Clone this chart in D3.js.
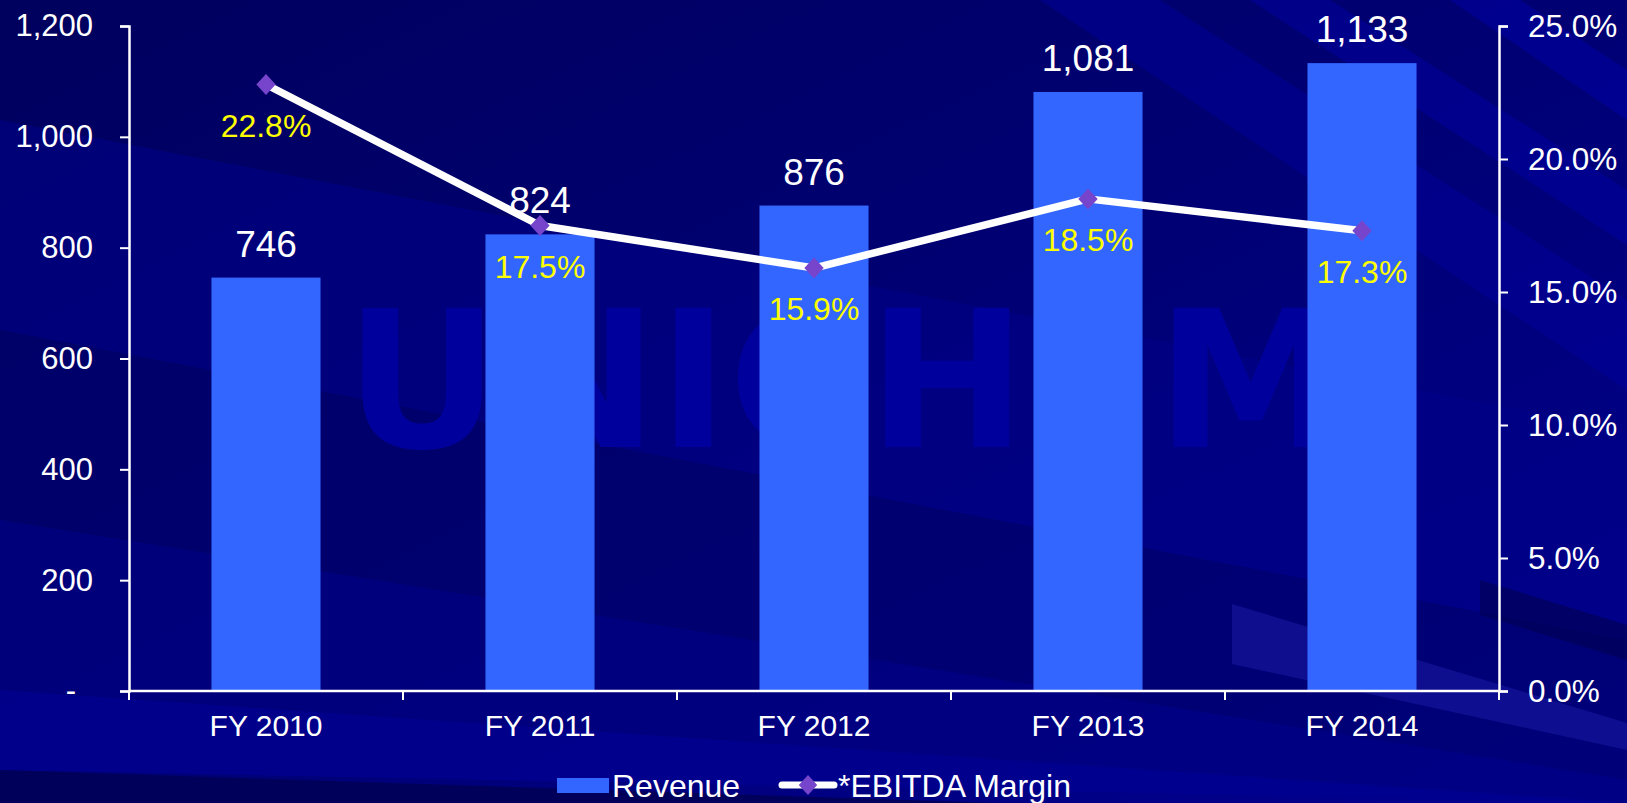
<!DOCTYPE html>
<html>
<head>
<meta charset="utf-8">
<script src="https://cdn.jsdelivr.net/npm/d3@7"></script>
<style>
  html, body { margin: 0; padding: 0; background: #000070; }
  svg { display: block; }
  text { font-family: "Liberation Sans", Arial, sans-serif; }
</style>
</head>
<body>
<svg id="chart" width="1627" height="803"></svg>
<script>
// ---- Data ----
const categories = ["FY 2010", "FY 2011", "FY 2012", "FY 2013", "FY 2014"];
const revenue = [746, 824, 876, 1081, 1133];
const ebitdaMargin = [22.8, 17.5, 15.9, 18.5, 17.3];
const leftTicks = [0, 200, 400, 600, 800, 1000, 1200];
const rightTicks = [0, 5, 10, 15, 20, 25];
const seriesNames = ["Revenue", "*EBITDA Margin"];

const W = 1627, H = 803;
const m = { left: 129, right: 1499, top: 26, bottom: 691 };

const svg = d3.select("#chart");

// ---- Background ----
const defs = svg.append("defs");
const bg = defs.append("linearGradient").attr("id", "bg")
  .attr("x1", "0").attr("y1", "0").attr("x2", "1").attr("y2", "1");
bg.append("stop").attr("offset", "0").attr("stop-color", "#00005e");
bg.append("stop").attr("offset", "0.5").attr("stop-color", "#000074");
bg.append("stop").attr("offset", "1").attr("stop-color", "#000090");
svg.append("rect").attr("width", W).attr("height", H).attr("fill", "url(#bg)");

const streaks = [
  { p: [[0,120],[0,330],[1627,640],[1627,430]], c: "#000088", o: 0.55 },
  { p: [[0,330],[0,520],[1627,780],[1627,640]], c: "#00006a", o: 0.6 },
  { p: [[0,520],[0,690],[1627,803],[1627,780]], c: "#000080", o: 0.7 },
  { p: [[0,690],[0,770],[1627,803],[1627,803]], c: "#000090", o: 0.8 },
  { p: [[0,770],[0,803],[1000,803]], c: "#000058", o: 0.9 },
  { p: [[1040,0],[1160,0],[1627,300],[1627,390]], c: "#0000a0", o: 0.45 },
  { p: [[1250,0],[1330,0],[1627,190],[1627,245]], c: "#0000a8", o: 0.45 },
  { p: [[1450,0],[1520,0],[1627,70],[1627,120]], c: "#0000b0", o: 0.45 },
  { p: [[1480,580],[1627,625],[1627,660],[1480,615]], c: "#000058", o: 0.7 },
  { p: [[1232,604],[1627,723],[1627,750],[1232,664]], c: "#2020b0", o: 0.45 }
];
svg.append("g").selectAll("polygon").data(streaks).join("polygon")
  .attr("points", d => d.p.map(q => q.join(",")).join(" "))
  .attr("fill", d => d.c).attr("opacity", d => d.o);

// Watermark
svg.append("text")
  .attr("x", 345).attr("y", 447)
  .attr("textLength", 1000).attr("lengthAdjust", "spacingAndGlyphs")
  .style("font-family", "'DejaVu Sans', sans-serif")
  .style("font-weight", "bold").style("font-size", "190px")
  .attr("fill", "#00009c")
  .text("UNICHEM");

// ---- Scales ----
const x = d3.scaleBand().domain(categories).range([m.left, m.right]).padding(0);
const yL = d3.scaleLinear().domain([0, 1200]).range([m.bottom, m.top]);
const yR = d3.scaleLinear().domain([0, 25]).range([m.bottom, m.top]);
const barW = x.bandwidth() * 0.398;
const cx = c => x(c) + x.bandwidth() / 2;

// ---- Bars ----
svg.append("g").selectAll("rect").data(categories).join("rect")
  .attr("x", c => cx(c) - barW / 2)
  .attr("y", (c, i) => yL(revenue[i]))
  .attr("width", barW)
  .attr("height", (c, i) => yL(0) - yL(revenue[i]))
  .attr("fill", "#3366ff");

// ---- Axes ----
const fmtL = d3.format(",");
const axL = svg.append("g").attr("transform", `translate(${m.left},0)`)
  .call(d3.axisLeft(yL).tickValues(leftTicks).tickSize(9).tickPadding(28)
    .tickFormat(d => d === 0 ? "-" : fmtL(d)));
const axR = svg.append("g").attr("transform", `translate(${m.right},0)`)
  .call(d3.axisRight(yR).tickValues(rightTicks).tickSize(9).tickPadding(20)
    .tickFormat(d => d.toFixed(1) + "%"));
[axL, axR].forEach(a => {
  a.select(".domain").attr("stroke", "#fff").attr("stroke-width", 2.5);
  a.selectAll(".tick line").attr("stroke", "#fff").attr("stroke-width", 2);
  a.selectAll(".tick text").attr("fill", "#fff").style("font-size", "31px")
    .style("font-family", "'Liberation Sans', Arial, sans-serif");
});
axL.selectAll(".tick text").attr("x", -36);
axL.selectAll(".tick").filter(d => d === 0).select("text").attr("x", -53);
axR.selectAll(".tick text").style("font-size", "31.5px");

// X axis
const xAxisG = svg.append("g").attr("transform", `translate(0,${m.bottom})`);
xAxisG.append("line").attr("x1", m.left).attr("x2", m.right)
  .attr("stroke", "#fff").attr("stroke-width", 2.5);
const boundaries = categories.map(c => x(c)).concat([x(categories[categories.length - 1]) + x.bandwidth()]);
xAxisG.selectAll("line.tk").data(boundaries).join("line").attr("class", "tk")
  .attr("x1", d => d).attr("x2", d => d).attr("y1", 0).attr("y2", 9)
  .attr("stroke", "#fff").attr("stroke-width", 2);
xAxisG.selectAll("text").data(categories).join("text")
  .attr("x", c => cx(c)).attr("y", 45).attr("text-anchor", "middle")
  .attr("fill", "#fff").style("font-size", "30px").text(c => c);

// Revenue labels
svg.append("g").selectAll("text").data(categories).join("text")
  .attr("x", c => cx(c)).attr("y", (c, i) => yL(revenue[i]) - 21)
  .attr("text-anchor", "middle").attr("fill", "#fff").style("font-size", "37px")
  .text((c, i) => fmtL(revenue[i]));

// ---- Line ----
const line = d3.line().x((d, i) => cx(categories[i])).y(d => yR(d));
svg.append("path").datum(ebitdaMargin).attr("d", line)
  .attr("fill", "none").attr("stroke", "#fff").attr("stroke-width", 7.5)
  .attr("stroke-linejoin", "round");

const dmd = (r) => `M0,${-r}L${r * 0.92},0L0,${r}L${-r * 0.92},0Z`;
svg.append("g").selectAll("path").data(ebitdaMargin).join("path")
  .attr("d", dmd(10.5))
  .attr("transform", (d, i) => `translate(${cx(categories[i])},${yR(d)})`)
  .attr("fill", "#7744cc");

svg.append("g").selectAll("text").data(ebitdaMargin).join("text")
  .attr("x", (d, i) => cx(categories[i])).attr("y", d => yR(d) + 52)
  .attr("text-anchor", "middle").attr("fill", "#ffff00").style("font-size", "32px")
  .text(d => d.toFixed(1) + "%");

// ---- Legend ----
const lg = svg.append("g");
lg.append("rect").attr("x", 557).attr("y", 778).attr("width", 52).attr("height", 15)
  .attr("fill", "#3366ff");
lg.append("text").attr("x", 612).attr("y", 797).attr("fill", "#fff")
  .style("font-size", "32px").text(seriesNames[0]);
lg.append("line").attr("x1", 782).attr("x2", 834).attr("y1", 785).attr("y2", 785)
  .attr("stroke", "#fff").attr("stroke-width", 7).attr("stroke-linecap", "round");
lg.append("path").attr("d", dmd(10)).attr("transform", "translate(808,785)")
  .attr("fill", "#7744cc");
lg.append("text").attr("x", 838).attr("y", 797).attr("fill", "#fff")
  .style("font-size", "32px").text(seriesNames[1]);
</script>
</body>
</html>
